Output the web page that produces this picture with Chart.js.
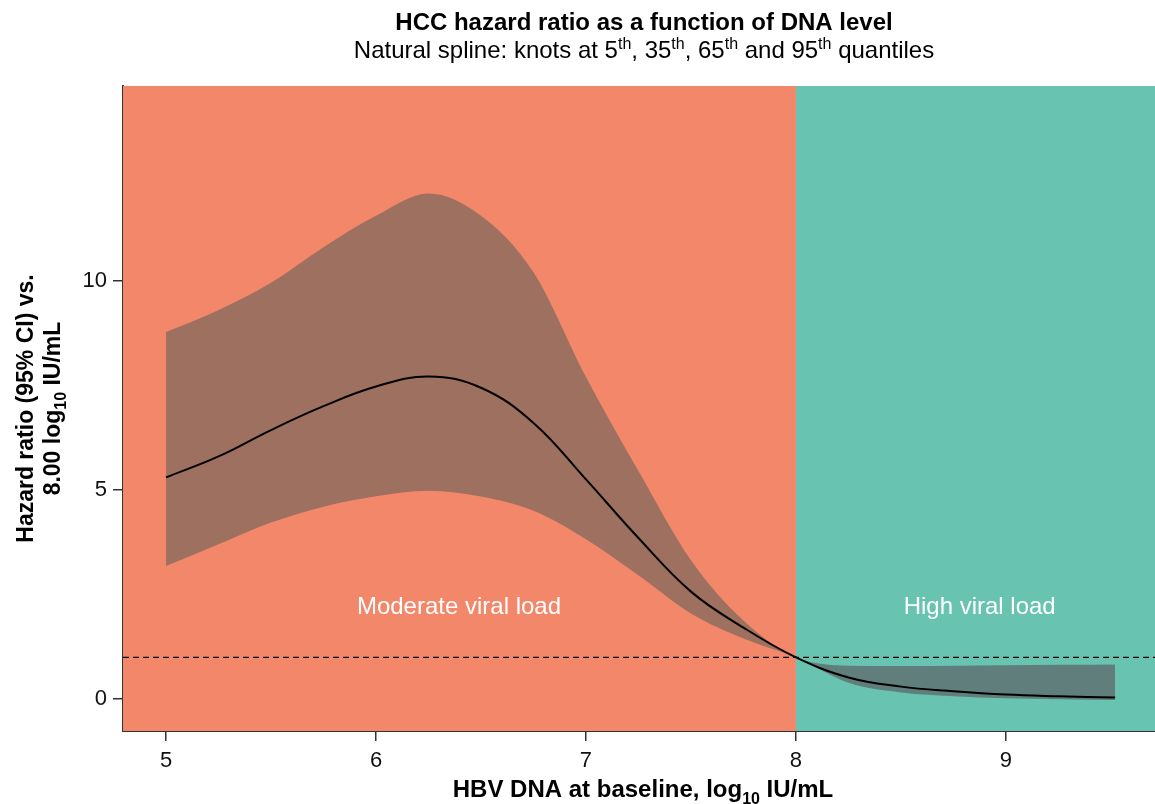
<!DOCTYPE html>
<html>
<head>
<meta charset="utf-8">
<script src="https://cdn.jsdelivr.net/npm/chart.js@4.4.1/dist/chart.umd.min.js"></script>
<style>
  html, body { margin: 0; padding: 0; background: #fff; }
  #wrap { width: 1155px; height: 804px; position: relative; }
</style>
</head>
<body>
<div id="wrap"><canvas id="chart"></canvas></div>
<script>
// HBV DNA (log10 IU/mL) and spline estimates
const dnaLevels   = [5.0, 5.25, 5.5, 5.75, 6.0, 6.25, 6.5, 6.75, 7.0, 7.25, 7.5, 7.75, 8.0, 8.25, 8.5, 8.75, 9.0, 9.25, 9.52];
const hazardRatio = [5.3, 5.8, 6.43, 7.0, 7.47, 7.71, 7.44, 6.6, 5.25, 3.85, 2.57, 1.71, 1.0, 0.52, 0.3, 0.19, 0.11, 0.07, 0.04];
const ciUpper     = [8.77, 9.3, 9.95, 10.8, 11.55, 12.08, 11.55, 10.2, 7.7, 5.45, 3.32, 1.88, 1.0, 0.8, 0.79, 0.8, 0.81, 0.82, 0.83];
const ciLower     = [3.18, 3.7, 4.22, 4.6, 4.85, 4.98, 4.84, 4.5, 3.82, 2.96, 2.05, 1.45, 1.0, 0.39, 0.16, 0.07, 0.02, 0.0, -0.02];

const xTicks = [5, 6, 7, 8, 9];
const yTicks = [0, 5, 10];
const referenceHR = 1;
const regionSplit = 8;
const regionLabels = ['Moderate viral load', 'High viral load'];

const FONT = "'Liberation Sans', Arial, Helvetica, sans-serif";
const SALMON = '#f2876a';
const TEAL = '#68c4b0';
const BAND_SALMON = '#9e705f';
const BAND_TEAL = '#607e7b';

const pts = (ys) => dnaLevels.map((x, i) => ({ x, y: ys[i] }));

// draw a line of text made of pieces, some raised or lowered
const drawRich = (ctx, parts, x, y, size, weight) => {
    const fontFor = (p) => `${weight} ${p.sup || p.sub ? Math.round(size * 0.68) : size}px ${FONT}`;
    let total = 0;
    parts.forEach((p) => { ctx.font = fontFor(p); total += ctx.measureText(p.t).width; });
    let cx = x - total / 2;
    ctx.textAlign = 'left';
    ctx.textBaseline = 'alphabetic';
    parts.forEach((p) => {
        ctx.font = fontFor(p);
        let dy = 0;
        if (p.sup) dy = -size * 0.38;
        if (p.sub) dy = size * 0.28;
        ctx.fillText(p.t, cx, y + dy);
        cx += ctx.measureText(p.t).width;
    });
};

const backdrop = {
    id: 'backdrop',
    beforeDatasetsDraw(chart) {
        const { ctx, chartArea: a, scales } = chart;
        const sx = scales.x.getPixelForValue(regionSplit);
        ctx.save();
        ctx.fillStyle = SALMON;
        ctx.fillRect(a.left, a.top, sx - a.left, a.bottom - a.top);
        ctx.fillStyle = TEAL;
        ctx.fillRect(sx, a.top, a.right - sx, a.bottom - a.top);

        ctx.fillStyle = '#ffffff';
        ctx.font = `24px ${FONT}`;
        ctx.textAlign = 'center';
        ctx.textBaseline = 'middle';
        const ly = scales.y.getPixelForValue(2.2);
        ctx.fillText(regionLabels[0], scales.x.getPixelForValue(6.395), ly);
        ctx.fillText(regionLabels[1], scales.x.getPixelForValue(8.875), ly);
        ctx.restore();
    },
    afterDatasetsDraw(chart) {
        const { ctx, chartArea: a, scales } = chart;
        const y = scales.y.getPixelForValue(referenceHR);
        ctx.save();
        ctx.strokeStyle = '#000';
        ctx.lineWidth = 1.3;
        ctx.setLineDash([6, 4]);
        ctx.beginPath();
        ctx.moveTo(a.left, y);
        ctx.lineTo(a.right, y);
        ctx.stroke();
        ctx.restore();
    },
    afterDraw(chart) {
        const { ctx, chartArea: a } = chart;
        const cx = (a.left + a.right) / 2;
        const cy = (a.top + a.bottom) / 2;
        ctx.save();
        ctx.fillStyle = '#000';
        drawRich(ctx, [{ t: 'HCC hazard ratio as a function of DNA level' }], 644, 30, 24, 'bold');
        drawRich(ctx, [
            { t: 'Natural spline: knots at 5' }, { t: 'th', sup: true },
            { t: ', 35' }, { t: 'th', sup: true },
            { t: ', 65' }, { t: 'th', sup: true },
            { t: ' and 95' }, { t: 'th', sup: true },
            { t: ' quantiles' },
        ], 644, 58, 24, 'normal');
        drawRich(ctx, [{ t: 'HBV DNA at baseline, log' }, { t: '10', sub: true }, { t: ' IU/mL' }], cx + 4, 797, 24, 'bold');

        ctx.translate(0, cy);
        ctx.rotate(-Math.PI / 2);
        drawRich(ctx, [{ t: 'Hazard ratio (95% CI) vs.' }], 0, 33, 23, 'bold');
        drawRich(ctx, [{ t: '8.00 log' }, { t: '10', sub: true }, { t: ' IU/mL' }], 0, 60, 23, 'bold');
        ctx.restore();
    },
};

// brown over salmon, grey over teal, split at the region boundary
const bandFill = (context) => {
    const chart = context.chart;
    const a = chart.chartArea;
    if (!a) return BAND_SALMON;
    const t = (chart.scales.x.getPixelForValue(regionSplit) - a.left) / (a.right - a.left);
    const g = chart.ctx.createLinearGradient(a.left, 0, a.right, 0);
    g.addColorStop(0, BAND_SALMON);
    g.addColorStop(t, BAND_SALMON);
    g.addColorStop(t, BAND_TEAL);
    g.addColorStop(1, BAND_TEAL);
    return g;
};

const axisCommon = {
    type: 'linear',
    border: { display: true, color: '#333', width: 2 },
    grid: { drawOnChartArea: false, drawTicks: true, tickLength: 10, color: '#333', lineWidth: 1.5 },
};

new Chart(document.getElementById('chart'), {
    type: 'line',
    data: {
        datasets: [
            {
                label: 'Hazard ratio',
                data: pts(hazardRatio),
                borderColor: '#000',
                borderWidth: 2,
                pointRadius: 0,
                fill: false,
                tension: 0.4,
            },
            {
                label: '95% CI upper',
                data: pts(ciUpper),
                borderWidth: 0,
                borderColor: 'rgba(0,0,0,0)',
                backgroundColor: bandFill,
                pointRadius: 0,
                fill: '+1',
                cubicInterpolationMode: 'monotone',
            },
            {
                label: '95% CI lower',
                data: pts(ciLower),
                borderWidth: 0,
                borderColor: 'rgba(0,0,0,0)',
                pointRadius: 0,
                fill: false,
                cubicInterpolationMode: 'monotone',
            },
        ],
    },
    options: {
        responsive: true,
        maintainAspectRatio: false,
        animation: false,
        layout: { padding: { top: 86, right: 0, bottom: 0, left: 0 } },
        plugins: {
            legend: { display: false },
            tooltip: { enabled: false },
            title: { display: false },
        },
        scales: {
            x: {
                ...axisCommon,
                min: 4.795,
                max: 9.71,
                afterBuildTicks: (s) => { s.ticks = xTicks.map((v) => ({ value: v })); },
                afterFit: (s) => { s.height = 73; },
                ticks: { color: '#111', padding: 7, font: { family: FONT, size: 22 } },
            },
            y: {
                ...axisCommon,
                min: -0.76,
                max: 14.65,
                afterBuildTicks: (s) => { s.ticks = yTicks.map((v) => ({ value: v })); },
                afterFit: (s) => { s.width = 123; },
                ticks: { color: '#111', padding: 6, font: { family: FONT, size: 22 } },
            },
        },
    },
    plugins: [backdrop],
});
</script>
</body>
</html>
